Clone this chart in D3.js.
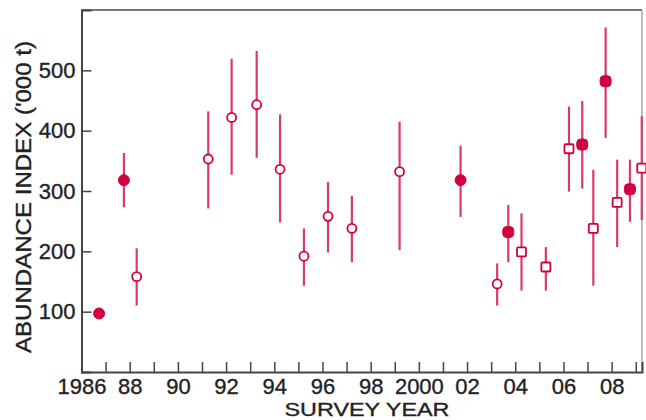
<!DOCTYPE html>
<html>
<head>
<meta charset="utf-8">
<script src="https://cdn.jsdelivr.net/npm/d3@7"></script>
<style>
  html, body { margin: 0; padding: 0; background: #fff; }
  svg { display: block; }
  text { font-family: "Liberation Sans", Arial, sans-serif; fill: #222; stroke: #222; stroke-width: 0.35px; }
</style>
</head>
<body>
<svg id="chart" width="646" height="420"></svg>
<script>
// ---- data ----
const surveyYears = [1986.73, 1987.76, 1988.29, 1991.26, 1992.23, 1993.27, 1994.24, 1995.23, 1996.23, 1997.22, 1999.2, 2001.73, 2003.25, 2003.71, 2004.26, 2005.27, 2006.23, 2006.78, 2007.24, 2007.75, 2008.23, 2008.76, 2009.25];
const abundance  = [97, 318, 158, 353, 422, 443, 336, 192, 258, 238, 332, 318, 146, 232, 199, 174, 370, 377, 238, 482, 281, 303, 338];
const lowerCI    = [92, 273, 110, 271, 327, 355, 248, 143, 198, 182, 202, 257, 110, 182, 135, 135, 299, 304, 143, 388, 207, 249, 252];
const upperCI    = [102, 363, 205, 432, 519, 532, 427, 238, 315, 292, 415, 375, 180, 277, 263, 207, 440, 449, 335, 571, 352, 352, 424];
const surveyType = ['A','A','B','B','B','B','B','B','B','B','B','A','B','C','D','D','D','C','D','C','D','C','D'];
const yTicks = [100, 200, 300, 400, 500];
const xTickYears = d3.range(1986, 2010);
const xLabelYears = [1986, 1988, 1990, 1992, 1994, 1996, 1998, 2000, 2002, 2004, 2006, 2008];
const xLabelText = ["1986", "88", "90", "92", "94", "96", "98", "2000", "02", "04", "06", "08"];
const yTitle = "ABUNDANCE INDEX ('000 t)";
const xTitle = "SURVEY YEAR";

// ---- layout ----
const svg = d3.select("#chart");
const mLeft = 81.5, mRight = 642, mTop = 10, mBottom = 372;
const x = d3.scaleLinear().domain([1986, 2009.26]).range([mLeft, mRight]);
const y = d3.scaleLinear().domain([0, 600]).range([mBottom, mTop]);

const markColor = "#d2003f";
const barColor = "#d83a6a";

// frame top & right
svg.append("line").attr("x1", mLeft).attr("x2", mRight).attr("y1", mTop).attr("y2", mTop)
  .attr("stroke", "#777").attr("stroke-width", 2);
svg.append("line").attr("x1", mRight).attr("x2", mRight).attr("y1", mTop).attr("y2", mBottom)
  .attr("stroke", "#aaa").attr("stroke-width", 1.5);

// x axis
const xAxis = d3.axisBottom(x).tickValues(xTickYears).tickSize(-10).tickPadding(6)
  .tickFormat(d => { const i = xLabelYears.indexOf(d); return i >= 0 ? xLabelText[i] : ""; });
const gx = svg.append("g").attr("transform", `translate(0,${mBottom})`).call(xAxis);
gx.select(".domain").attr("stroke", "#444").attr("stroke-width", 2);
gx.selectAll(".tick line").attr("stroke", "#444").attr("stroke-width", 1.5);
gx.selectAll("text").attr("font-size", 22).style("font-family", "'Liberation Sans', Arial, sans-serif").attr("fill", "#222");

// y axis
const yAxis = d3.axisLeft(y).tickValues(yTicks).tickSize(-10).tickPadding(6);
const gy = svg.append("g").attr("transform", `translate(${mLeft},0)`).call(yAxis);
gy.select(".domain").attr("stroke", "#444").attr("stroke-width", 2);
gy.selectAll(".tick line").attr("stroke", "#444").attr("stroke-width", 1.5);
gy.selectAll("text").attr("font-size", 22).style("font-family", "'Liberation Sans', Arial, sans-serif").attr("fill", "#222");

// titles
svg.append("text").attr("x", 367).attr("y", 415.6).attr("text-anchor", "middle")
  .attr("font-size", 19).attr("textLength", 165).attr("lengthAdjust", "spacingAndGlyphs").text(xTitle);
svg.append("text").attr("transform", "translate(31,197) rotate(-90)").attr("text-anchor", "middle")
  .attr("font-size", 22).attr("textLength", 312).attr("lengthAdjust", "spacingAndGlyphs").text(yTitle);

// data
const data = surveyYears.map((yr, i) => ({ yr, v: abundance[i], lo: lowerCI[i], hi: upperCI[i], t: surveyType[i] }));

const g = svg.append("g");
g.selectAll("line.err").data(data).join("line").attr("class", "err")
  .attr("x1", d => x(d.yr)).attr("x2", d => x(d.yr))
  .attr("y1", d => y(d.lo)).attr("y2", d => y(d.hi))
  .attr("stroke", barColor).attr("stroke-width", 2.2);

g.selectAll("circle.mk").data(data.filter(d => d.t === 'A' || d.t === 'B')).join("circle").attr("class", "mk")
  .attr("cx", d => x(d.yr)).attr("cy", d => y(d.v))
  .attr("r", d => d.t === 'A' ? 5.5 : 4.5)
  .attr("fill", d => d.t === 'A' ? markColor : "#fff")
  .attr("stroke", markColor).attr("stroke-width", d => d.t === 'A' ? 1 : 1.8);

g.selectAll("rect.mk").data(data.filter(d => d.t === 'C' || d.t === 'D')).join("rect").attr("class", "mk")
  .attr("x", d => x(d.yr) - (d.t === 'C' ? 5.5 : 4.5)).attr("y", d => y(d.v) - (d.t === 'C' ? 5.5 : 4.5))
  .attr("width", d => d.t === 'C' ? 11 : 9).attr("height", d => d.t === 'C' ? 11 : 9)
  .attr("rx", d => d.t === 'C' ? 4 : 1)
  .attr("fill", d => d.t === 'C' ? markColor : "#fff")
  .attr("stroke", markColor).attr("stroke-width", d => d.t === 'C' ? 1 : 1.8);
</script>
</body>
</html>
